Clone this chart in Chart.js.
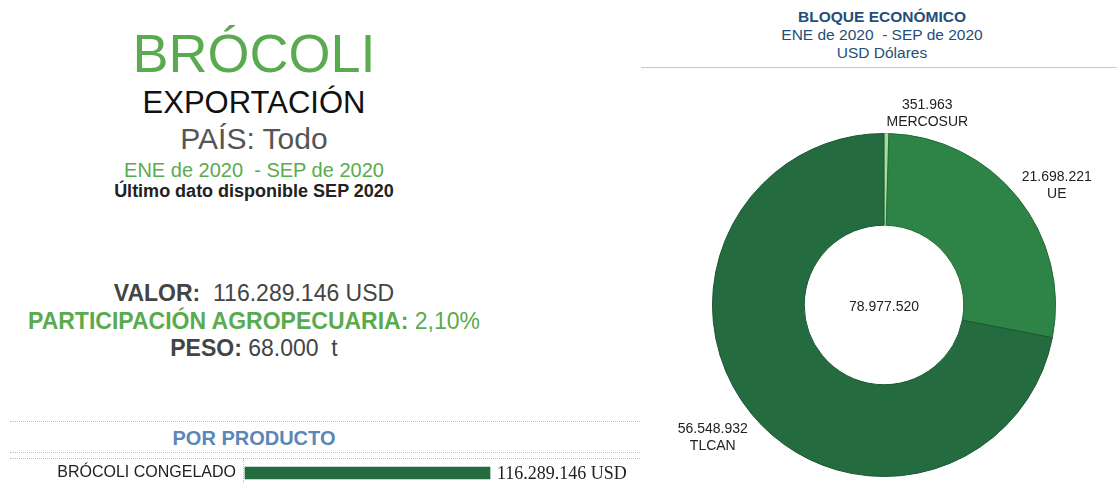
<!DOCTYPE html>
<html lang="es">
<head>
<meta charset="utf-8">
<script src="https://cdn.jsdelivr.net/npm/chart.js@4/dist/chart.umd.min.js"></script>
<style>
  html, body { margin: 0; padding: 0; background: #fff; }
  body { width: 1117px; height: 483px; position: relative; overflow: hidden;
         font-family: "Liberation Sans", Arial, sans-serif; }
  .t { position: absolute; left: 0; width: 508px; text-align: center; white-space: pre; }
  .rt { position: absolute; left: 641px; width: 482px; text-align: center; white-space: pre;
        color: #1f4e79; font-size: 15.5px; line-height: 18px; }
  .dots { position: absolute; left: 10px; width: 630px; height: 0; border-top: 1px dotted #9cc3e0; }
  #pie { position: absolute; left: 641px; top: 70px; }
</style>
</head>
<body>
  <div class="t" style="top:22px;font-size:54px;line-height:62px;color:#5aab4f">BRÓCOLI</div>
  <div class="t" style="top:86px;font-size:31px;line-height:34px;color:#111">EXPORTACIÓN</div>
  <div class="t" style="top:123px;font-size:30px;line-height:32px;color:#555">PAÍS: Todo</div>
  <div class="t" style="top:158px;font-size:20px;line-height:24px;color:#5aab4f">ENE de 2020  - SEP de 2020</div>
  <div class="t" style="top:181px;font-size:18px;line-height:20px;color:#222;font-weight:bold">Último dato disponible SEP 2020</div>

  <div class="t" style="top:280px;font-size:23px;line-height:26px;color:#444"><b>VALOR:</b>  116.289.146 USD</div>
  <div class="t" style="top:308px;font-size:23px;line-height:26px;color:#5aab4f"><b>PARTICIPACIÓN AGROPECUARIA:</b> 2,10%</div>
  <div class="t" style="top:335px;font-size:23px;line-height:26px;color:#444"><b>PESO:</b> 68.000  t</div>

  <div class="dots" style="top:421px"></div>
  <div class="t" style="top:427px;font-size:20px;line-height:22px;color:#5b86b8;font-weight:bold">POR PRODUCTO</div>
  <div class="dots" style="top:452px"></div>
  <div class="dots" style="top:458px;border-top-color:#bbb"></div>
  <div style="position:absolute;left:243px;top:459px;height:24px;border-left:1px dotted #bbb"></div>
  <canvas id="bar" width="640" height="40" style="position:absolute;left:0;top:453px"></canvas>

  <div class="rt" style="top:8px;font-weight:bold">BLOQUE ECONÓMICO</div>
  <div class="rt" style="top:26px">ENE de 2020  - SEP de 2020</div>
  <div class="rt" style="top:44px">USD Dólares</div>
  <div style="position:absolute;left:641px;top:67px;width:476px;border-top:1px solid #c8c8c8"></div>
  <canvas id="pie" width="476" height="413"></canvas>

<script>
// Exportaciones por bloque económico, USD
const bloques = ["MERCOSUR", "UE", "TLCAN"];
const valoresBloque = [351963, 21698221, 56548932];
const totalBloque = "78.977.520";

// Por producto, USD
const productos = ["BRÓCOLI CONGELADO"];
const valoresProducto = [116289146];

const COLORS = ["#a6dc9c", "#2e8447", "#246b40"];
const BORDERS = ["#7fc076", "#1f6a36", "#1b5631"];

const fmt = (v) => v.toLocaleString("de-DE");

// Etiquetas fuera del anillo: bloque de dos líneas alineado al lado del anillo
const donutLabels = {
  id: "donutLabels",
  afterDatasetsDraw(chart) {
    const { ctx } = chart;
    const meta = chart.getDatasetMeta(0);
    ctx.save();
    ctx.font = "14px 'Liberation Sans', Arial, sans-serif";
    ctx.fillStyle = "#222";
    ctx.textBaseline = "middle";
    ctx.textAlign = "center";
    meta.data.forEach((arc, i) => {
      const { x, y, startAngle, endAngle, outerRadius } = arc.getProps(
        ["x", "y", "startAngle", "endAngle", "outerRadius"], true);
      const mid = (startAngle + endAngle) / 2;
      const ax = x + Math.cos(mid) * (outerRadius + 5);
      let ay = y + Math.sin(mid) * (outerRadius + 20);
      if (Math.sin(mid) > 0) ay += 11;
      const lines = [fmt(valoresBloque[i]), chart.data.labels[i]];
      const w = Math.max(...lines.map((l) => ctx.measureText(l).width));
      const cx = Math.cos(mid) >= -0.01 ? ax + w / 2 : ax - w / 2;
      ctx.fillText(lines[0], cx, ay - 8.5);
      ctx.fillText(lines[1], cx, ay + 8.5);
    });
    const a = meta.data[0];
    ctx.fillText(totalBloque, a.x, a.y + 2);
    ctx.restore();
  },
};

new Chart(document.getElementById("pie"), {
  type: "doughnut",
  data: {
    labels: bloques,
    datasets: [{
      data: valoresBloque,
      backgroundColor: COLORS,
      borderColor: BORDERS,
      borderWidth: 1,
    }],
  },
  options: {
    responsive: false,
    animation: false,
    cutout: "46.5%",
    layout: { padding: { left: 71, right: 61, top: 63, bottom: 6 } },
    plugins: { legend: { display: false }, tooltip: { enabled: false } },
  },
  plugins: [donutLabels],
});

const barValue = {
  id: "barValue",
  afterDatasetsDraw(chart) {
    const { ctx } = chart;
    chart.getDatasetMeta(0).data.forEach((bar, i) => {
      ctx.save();
      ctx.font = "18px 'Liberation Serif', 'Times New Roman', serif";
      ctx.fillStyle = "#222";
      ctx.textBaseline = "middle";
      ctx.fillText(fmt(valoresProducto[i]) + " USD", bar.x + 7, bar.y + 1);
      ctx.restore();
    });
  },
};

new Chart(document.getElementById("bar"), {
  type: "bar",
  data: {
    labels: productos,
    datasets: [{
      data: valoresProducto,
      backgroundColor: "#246b40",
      barThickness: 12,
      clip: false,
    }],
  },
  options: {
    indexAxis: "y",
    responsive: false,
    animation: false,
    layout: { padding: { left: 0, right: 150, top: 0, bottom: 0 } },
    scales: {
      x: { type: "linear", display: false, min: 0, max: valoresProducto[0] },
      y: {
        type: "category",
        afterFit: (s) => { s.width = 245; },
        grid: { display: false },
        border: { display: false },
        ticks: { color: "#222", padding: 1,
                 font: { size: 16, family: "'Liberation Sans', Arial, sans-serif" } },
      },
    },
    plugins: { legend: { display: false }, tooltip: { enabled: false } },
  },
  plugins: [barValue],
});
</script>
</body>
</html>
